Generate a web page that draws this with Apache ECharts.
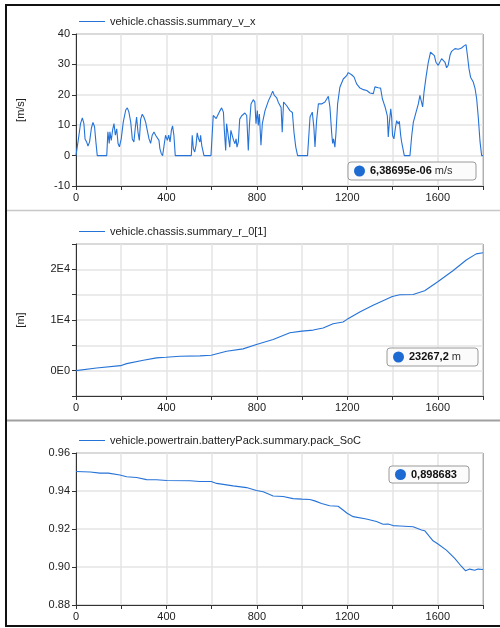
<!DOCTYPE html>
<html>
<head>
<meta charset="utf-8">
<script src="https://cdn.jsdelivr.net/npm/echarts@6/dist/echarts.min.js"></script>
<style>
html,body{margin:0;padding:0;background:#fff;}
#chart{width:500px;height:628px;}
</style>
</head>
<body>
<div id="chart"></div>
<script>
// ---- data ----
const seriesNames = ['vehicle.chassis.summary_v_x', 'vehicle.chassis.summary_r_0[1]', 'vehicle.powertrain.batteryPack.summary.pack_SoC'];
const unitNames = ['[m/s]', '[m]', ''];
const lastValues = ['6,38695e-06', '23267,2', '0,898683'];
const lastUnits = [' m/s', ' m', ''];

const speedTime = [0,6,13,20,28,35,40,47,53,60,68,75,82,88,94,136,141,147,150,156,162,168,174,180,186,192,200,209,220,227,234,242,249,256,262,268,274,280,286,293,300,308,315,323,330,337,345,352,360,367,371,377,383,389,396,404,410,416,422,427,433,439,510,514,519,525,531,536,542,548,551,556,561,566,597,
607,615,620,626,637,644,652,656,662,666,674,680,685,691,697,703,708,712,718,724,733,747,755,762,767,774,784,791,796,802,806,811,818,824,836,851,862,870,877,887,895,907,912,918,932,946,957,964,972,980,1024,1035,1045,1052,1057,1064,1072,1079,1086,1094,1101,1109,1116,1123,1131,1135,1139,1145,1150,1157,1167,1182,1197,
1204,1219,1230,1241,1256,1271,1286,1300,1308,1315,1322,1337,1347,1355,1362,1367,1371,1377,1381,1386,1392,1396,1400,1406,1412,1418,1425,1430,1436,1440,1448,1452,1477,1485,1492,1504,1514,1521,1528,1533,1539,1548,1558,1568,1576,1585,1592,1602,1610,1617,1625,1632,1639,1646,1654,1661,1676,1691,1705,1716,1725,1731,1738,1745,1757,1765,1772,1779,1787,1794,1800];
const speedValue = [0,0,6.7,10.5,12.4,10.5,5.5,4.5,3.1,4.5,9,10.9,9.5,4.5,0,0,7.8,4,7.8,5,8.5,10.5,6.7,8.8,4,2.9,5.5,11,15,15.7,14.3,11,5.5,4.5,9,12.7,7.8,5,12,13.6,12.7,11,8.4,5.5,4,6.7,7.8,6.7,7.2,5,2.3,0.7,0,0,6.7,5,6.7,4.5,8.4,9.8,6.7,0,0,6.7,2.3,1.2,3.4,7.5,5.5,4.5,6.7,3.4,2.9,0,0,
13.2,13.8,12.2,12.8,14.8,15.7,14.3,8.4,1.7,10.5,11,2.8,8.3,8.9,5,3.9,5.5,2.8,4.5,12,13.1,14,13.2,1.7,10,17,18.4,17.6,10.5,14.8,9.9,13.7,3.4,10.5,14.8,18,19.8,21.2,19.8,19.1,17.5,15.8,7.7,17.6,16.4,14.8,14.2,7.7,2.8,0,0,12.7,14.3,9.3,2.8,11.5,17,17.6,17,16.4,17.6,18,19.5,16,7.2,4,5.5,2.8,7.7,17,22.5,25.2,26.3,
27.3,26.6,25.8,23.6,22.2,21.7,21.4,20.6,21,20.4,22.6,22.3,22.2,18.7,17.1,16,16.5,13.1,6.1,11,15.4,12.6,6.6,5.5,8.8,11.5,10.4,11.3,6.6,4.5,3.9,0,0,6.7,11,14.3,17,19.8,17.6,16,20.8,25.8,30.7,34,34.6,32.9,30.7,29.7,30.3,31.9,32.4,30.7,28.9,29.7,33,34.3,35.2,35,35.4,36.1,36.5,33,28.6,25.8,24.2,22,18.7,12.7,4.5,0,0];

const distTime = [0,91,197,224,298,356,398,460,548,598,666,739,798,872,946,999,1049,1093,1137,1181,1199,1255,1314,1399,1432,1491,1542,1600,1667,1726,1770,1800];
const distValue = [0,530,990,1390,2050,2520,2650,2850,2910,3050,3840,4300,5170,6160,7480,7800,8010,8410,9270,9600,10130,11590,12910,14640,14970,15030,15760,17550,19730,21850,23050,23267];

const socTime = [0,63,106,143,194,224,268,312,356,401,504,548,598,622,695,754,798,828,872,916,960,999,1034,1056,1086,1122,1159,1181,1199,1226,1284,1329,1358,1380,1402,1432,1491,1528,1542,1579,1601,1638,1675,1704,1723,1741,1763,1778,1800];
const socValue = [0.9503,0.9500,0.9494,0.9494,0.9484,0.9475,0.9471,0.9460,0.9459,0.9455,0.9454,0.9450,0.9450,0.9440,0.9427,0.9418,0.9403,0.9396,0.9374,0.9371,0.9360,0.9357,0.9355,0.9348,0.9334,0.9322,0.9320,0.9300,0.9283,0.9265,0.9253,0.9239,0.9225,0.9226,0.9218,0.9216,0.9212,0.9195,0.9191,0.9138,0.9121,0.9089,0.9045,0.9004,0.8980,0.8989,0.8983,0.8989,0.8987];

const xTicks = {min: 0, max: 1800, interval: 200, labelEvery: 400};
const yTicks = [
  {min: -10, max: 40, interval: 10},
  {min: -5000, max: 25000, interval: 5000},
  {min: 0.88, max: 0.96, interval: 0.02}
];

// ---- styles ----
const FONT = '"Liberation Sans", Arial, sans-serif';
const LINE_COLOR = '#2673d8';
const AXIS_COLOR = '#333';
const grids = [
  {left: 76, top: 34, width: 407, height: 152},
  {left: 76, top: 244, width: 407, height: 152},
  {left: 76, top: 453, width: 407, height: 152}
];
const legendTops = [11, 221, 430];
const boxes = [
  {x: 348, y: 162, w: 128, h: 18},
  {x: 387, y: 348, w: 91, h: 18},
  {x: 389, y: 466, w: 80, h: 17}
];

function zip(a, b) { return a.map((t, i) => [t, b[i]]); }
const seriesData = [zip(speedTime, speedValue), zip(distTime, distValue), zip(socTime, socValue)];

const yFormatters = [
  v => String(v),
  v => (Math.abs(v % 10000) < 1e-6 ? (v === 0 ? '0E0' : (v / 10000) + 'E4') : ''),
  v => v.toFixed(2)
];

const chart = echarts.init(document.getElementById('chart'), null, {renderer: 'canvas'});

const option = {
  animation: false,
  backgroundColor: '#fff',
  textStyle: {fontFamily: FONT},
  grid: grids.map(g => Object.assign({show: true, borderColor: '#777', borderWidth: 1, backgroundColor: 'transparent'}, g)),
  legend: seriesNames.map((n, i) => ({
    data: [n], left: 74, top: legendTops[i], icon: 'rect', itemWidth: 26, itemHeight: 1,
    itemGap: 5, selectedMode: false,
    textStyle: {fontFamily: FONT, fontSize: 11, color: '#222'},
    itemStyle: {color: LINE_COLOR}
  })),
  xAxis: grids.map((g, i) => ({
    type: 'value', gridIndex: i, min: xTicks.min, max: xTicks.max, interval: xTicks.interval,
    axisLine: {show: true, onZero: false, lineStyle: {color: AXIS_COLOR, width: 1}},
    axisTick: {show: true, length: 4, lineStyle: {color: AXIS_COLOR}},
    axisLabel: {color: '#222', fontSize: 11, fontFamily: FONT, margin: 6,
      formatter: v => (v % xTicks.labelEvery === 0 ? String(v) : '')},
    splitLine: {show: true, lineStyle: {color: '#e4e4e4', width: 1.5}}
  })),
  yAxis: grids.map((g, i) => ({
    type: 'value', gridIndex: i, min: yTicks[i].min, max: yTicks[i].max, interval: yTicks[i].interval,
    name: unitNames[i], nameLocation: 'middle', nameGap: 50, nameRotate: 90,
    nameTextStyle: {color: '#222', fontSize: 11, fontFamily: FONT},
    axisLine: {show: true, onZero: false, lineStyle: {color: AXIS_COLOR, width: 1}},
    axisTick: {show: true, length: 4, lineStyle: {color: AXIS_COLOR}},
    axisLabel: {color: '#222', fontSize: 11, fontFamily: FONT, margin: 6, formatter: yFormatters[i]},
    splitLine: {show: true, lineStyle: {color: '#e4e4e4', width: 1.5}}
  })),
  series: seriesNames.map((n, i) => ({
    name: n, type: 'line', xAxisIndex: i, yAxisIndex: i, data: seriesData[i],
    showSymbol: false, symbol: 'none', color: LINE_COLOR,
    lineStyle: {color: LINE_COLOR, width: 1.1},
    markLine: {
      silent: true, symbol: 'none', label: {show: false},
      lineStyle: {color: '#f5a23c', width: 1, type: 'solid'},
      data: [{xAxis: xTicks.max}]
    }
  })),
  graphic: [
    {type: 'rect', shape: {x: 6, y: 5, width: 520, height: 621}, style: {fill: 'none', stroke: '#111', lineWidth: 2}, z: 100},
    {type: 'line', shape: {x1: 7, y1: 210.5, x2: 500, y2: 210.5}, style: {stroke: '#c8c8c8', lineWidth: 1.5}, z: 100},
    {type: 'line', shape: {x1: 7, y1: 420.5, x2: 500, y2: 420.5}, style: {stroke: '#a0a0a0', lineWidth: 2}, z: 100}
  ].concat(...boxes.map((b, i) => ([
      {type: 'rect', z: 110, shape: {x: b.x, y: b.y, width: b.w, height: b.h, r: 3}, style: {fill: '#fbfbfb', stroke: '#9a9a9a', lineWidth: 1}},
      {type: 'circle', z: 111, shape: {cx: b.x + 11.5, cy: b.y + b.h / 2, r: 5.5}, style: {fill: '#1d6bd2'}},
      {type: 'text', z: 112, x: b.x + 22, y: b.y + b.h / 2,
        style: {
          text: '{b|' + lastValues[i] + '}{n|' + lastUnits[i] + '}',
          verticalAlign: 'middle', align: 'left',
          rich: {
            b: {fontFamily: FONT, fontWeight: 'bold', fontSize: 11, fill: '#111'},
            n: {fontFamily: FONT, fontSize: 11, fill: '#333'}
          }
        }}
  ])))
};
chart.setOption(option);
</script>
</body>
</html>
